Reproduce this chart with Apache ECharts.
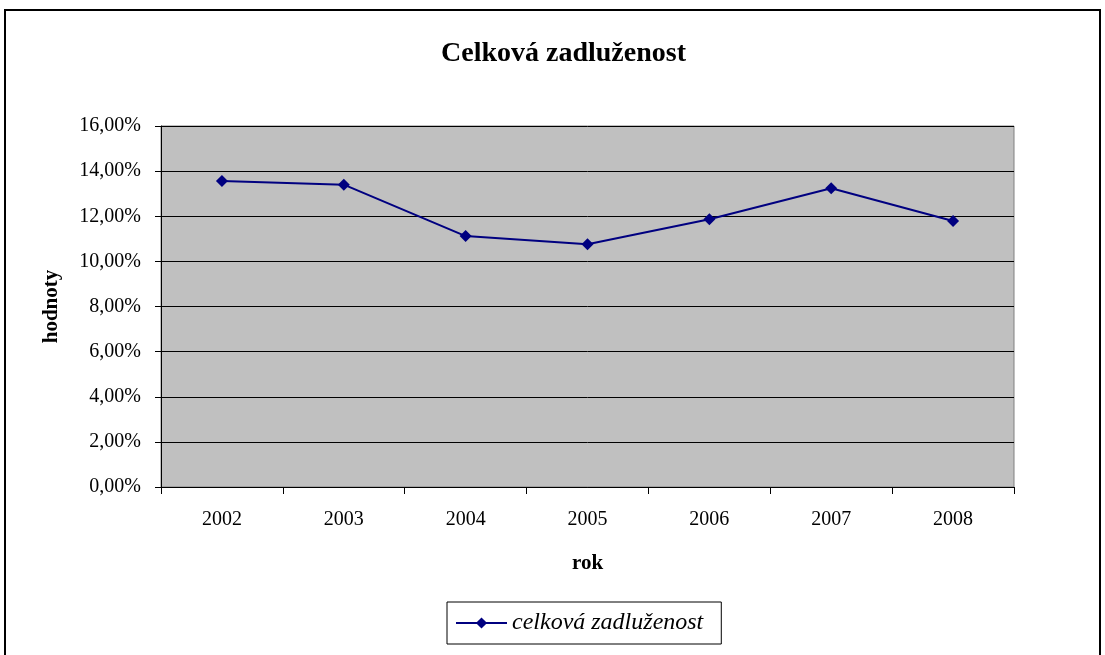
<!DOCTYPE html>
<html><head><meta charset="utf-8">
<script src="https://cdn.jsdelivr.net/npm/echarts@6/dist/echarts.min.js"></script>
<style>html,body{margin:0;padding:0;background:#fff}#c{width:1105px;height:655px}</style>
</head><body><div id="c"></div>
<script>
const categories = ['2002','2003','2004','2005','2006','2007','2008'];
const values = [0.1356, 0.1340, 0.1112, 0.1076, 0.1187, 0.1324, 0.1179];
const seriesName = 'celková zadluženost';
const titleText = 'Celková zadluženost';
const yName = 'hodnoty';
const xName = 'rok';

const chart = echarts.init(document.getElementById('c'), null, {renderer:'canvas'});
const font = 'Liberation Serif, Times New Roman, serif';
chart.setOption({
  animation:false,
  backgroundColor:'#fff',
  textStyle:{fontFamily:font},
  graphic:[{type:'rect', shape:{x:5,y:10,width:1095,height:700}, style:{fill:'none',stroke:'#000',lineWidth:2}, silent:true}],
  title:{text:titleText, left:436, top:35, textStyle:{fontFamily:font,fontSize:28,fontWeight:'bold',color:'#000'}},
  grid:{left:161, top:126, right:91, bottom:168, show:true, backgroundColor:'#C0C0C0', borderColor:'#808080', borderWidth:1},
  xAxis:{type:'category', data:categories, boundaryGap:true,
    name:xName, nameLocation:'middle', nameGap:66,
    nameTextStyle:{fontFamily:font,fontSize:21,fontWeight:'bold',color:'#000'},
    axisLine:{lineStyle:{color:'#000',width:1}},
    axisTick:{show:true, length:7, lineStyle:{color:'#000'}},
    axisLabel:{fontFamily:font,fontSize:20,color:'#000',margin:23}},
  yAxis:{type:'value', min:0, max:0.16, interval:0.02,
    name:yName, nameLocation:'middle', nameGap:99, nameRotate:90,
    nameTextStyle:{fontFamily:font,fontSize:21,fontWeight:'bold',color:'#000'},
    axisLine:{show:true,lineStyle:{color:'#000',width:1}},
    axisTick:{show:true, length:6, lineStyle:{color:'#000'}},
    splitLine:{lineStyle:{color:'#000',width:1}},
    axisLabel:{fontFamily:font,fontSize:20,color:'#000',margin:20,
      formatter:v=>(v*100).toFixed(2).replace('.',',')+'%'}},
  legend:{data:[seriesName], left:447, top:602, orient:'horizontal',
    borderColor:'#000', borderWidth:1, padding:[9,18,9,8], itemWidth:51, itemHeight:14, itemGap:6,
    textStyle:{fontFamily:font,fontSize:24,fontStyle:'italic',color:'#000'}},
  series:[{name:seriesName, type:'line', data:values, symbol:'diamond', symbolSize:12,
    lineStyle:{color:'#000080',width:2}, itemStyle:{color:'#000080'}}]
});
</script></body></html>
